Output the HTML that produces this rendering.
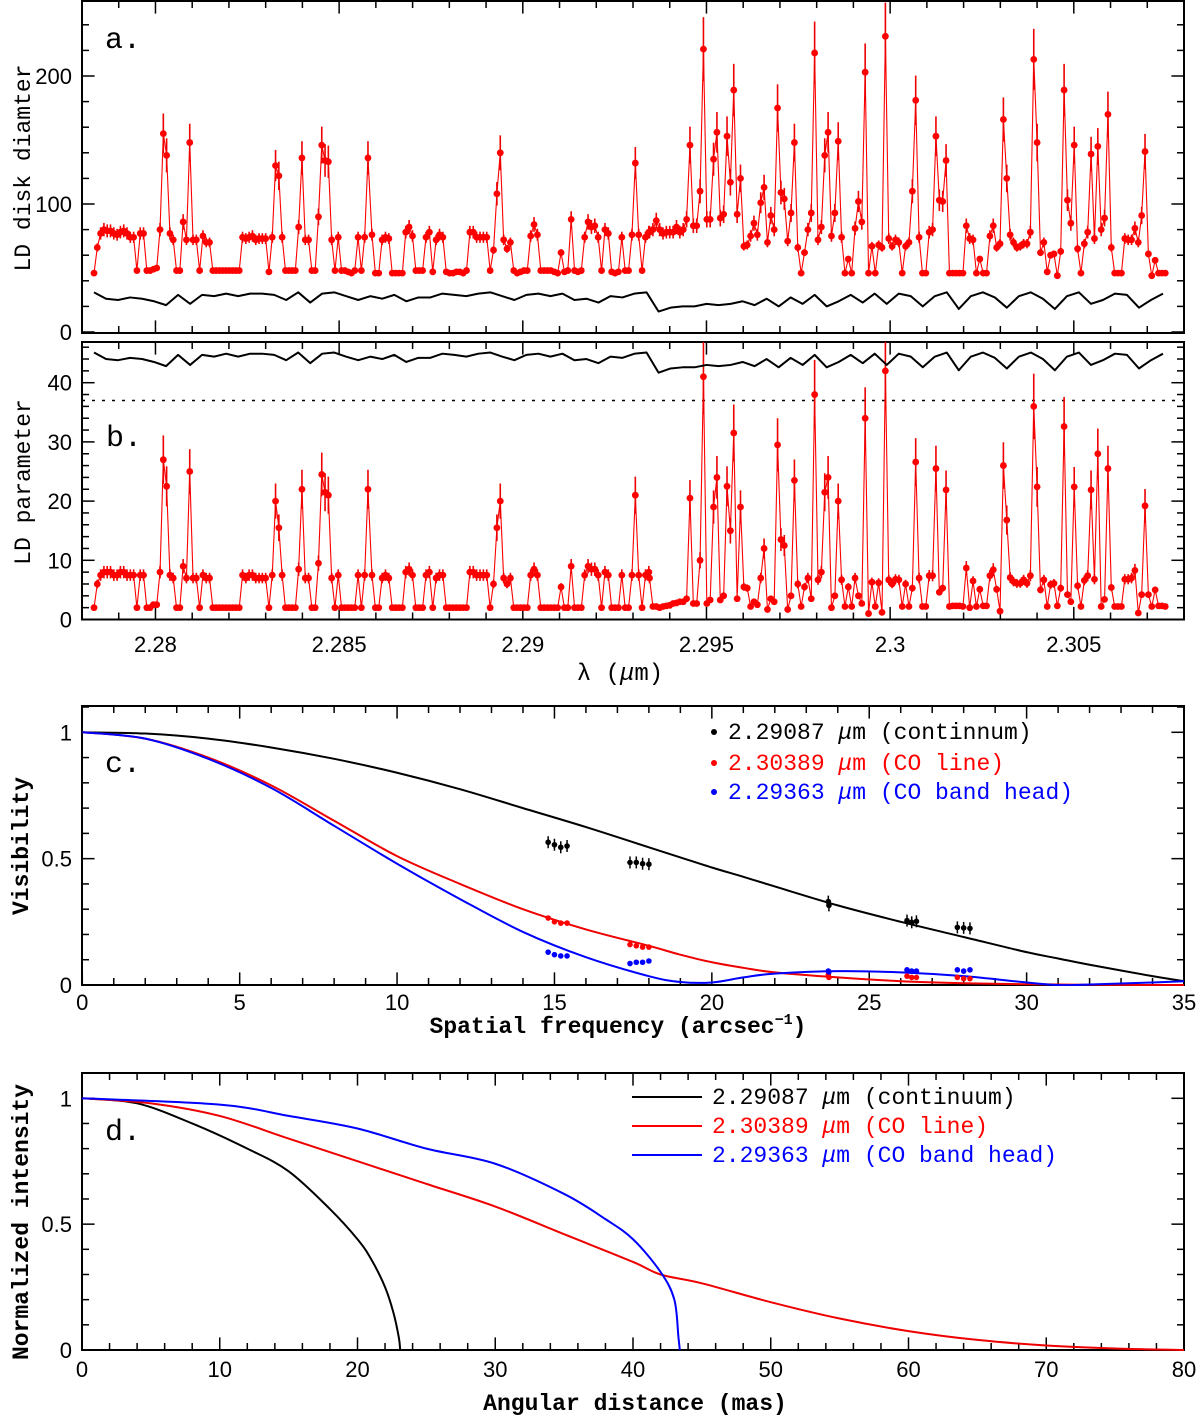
<!DOCTYPE html>
<html><head><meta charset="utf-8"><style>
html,body{margin:0;padding:0;background:#fff;}
svg{display:block;}
text{font-family:"Liberation Mono",monospace;}
.tk{font-family:"Liberation Sans",sans-serif;font-size:22px;}
</style></head><body>
<svg id="fig" width="1200" height="1419" viewBox="0 0 1200 1419" xmlns="http://www.w3.org/2000/svg">
<defs>
<clipPath id="clipA"><rect x="82" y="1" width="1102" height="332"/></clipPath>
<clipPath id="clipB"><rect x="82" y="342" width="1102" height="278"/></clipPath>
<clipPath id="clipC"><rect x="82" y="706" width="1102" height="280"/></clipPath>
<clipPath id="clipD"><rect x="82" y="1073" width="1102" height="278"/></clipPath>
</defs>
<g id="pA"></g>
<g id="pB"></g>
<g id="pC"></g>
<g id="pD"></g>
<text x="105" y="48" font-size="30" font-family="Liberation Serif">a.</text>
<text x="106" y="446" font-size="30" font-family="Liberation Serif">b.</text>
<text x="105" y="772" font-size="30" font-family="Liberation Serif">c.</text>
<text x="105" y="1140" font-size="30" font-family="Liberation Serif">d.</text>
<text transform="translate(30,168) rotate(-90)" text-anchor="middle" font-size="23">LD disk diamter</text>
<text transform="translate(30,482) rotate(-90)" text-anchor="middle" font-size="23">LD parameter</text>
<text x="620" y="680" text-anchor="middle" font-size="24">λ (<tspan font-style="italic">μ</tspan>m)</text>
<text transform="translate(28,846) rotate(-90)" text-anchor="middle" font-size="23" font-weight="bold">Visibility</text>
<text x="618" y="1033" text-anchor="middle" font-size="23" font-weight="bold">Spatial frequency (arcsec<tspan dy="-9" font-size="15">−1</tspan><tspan dy="9">)</tspan></text>
<text transform="translate(28,1222) rotate(-90)" text-anchor="middle" font-size="23" font-weight="bold">Normalized intensity</text>
<text x="635" y="1410" text-anchor="middle" font-size="23" font-weight="bold">Angular distance (mas)</text>
</svg>
<script>
// ---------- Panel a/b data ----------
const segLam = [[2.278327,2.285785],[2.285894,2.293431],[2.293450,2.300788],[2.300880,2.307490]];
const diamSeg1 = [46,66,77,80,79,79,77,76,78,79,77,74,74,48,77,77,48,48,49,50,80,155,138,77,72,48,48,86,72,148,72,72,48,75,70,70,48,48,48,48,48,48,48,48,48,74,73,74,75,72,73,73,73,47,74,130,122,74,48,48,48,48,82,136,72,72,48,48,90,146,134,133,72,48,74,48,48,47,46,48,74,48,74,136];
const diamSeg2 = [76,46,46,72,74,73,46,46,46,46,78,82,75,48,48,48,74,78,47,72,76,74,47,46,46,47,47,46,48,78,78,74,74,74,74,48,64,108,140,72,65,70,48,46,47,48,48,75,84,76,48,48,48,48,47,46,62,47,48,88,48,47,48,74,86,82,83,74,48,80,77,47,46,47,74,48,48,76,132,76,48,74,78];
const diamSeg3 = [78,80,87,80,77,78,78,78,82,78,80,88,146,83,83,110,221,88,88,135,156,89,92,153,117,189,92,120,67,68,75,85,76,101,113,70,91,80,175,109,104,71,93,148,66,46,62,80,93,218,72,82,138,156,75,93,149,74,46,57,46,81,102,86,203,46,67,46,68,66,231,73,67,72,70,46,67,70,110,181,74];
const diamSeg4 = [46,46,78,80,153,103,102,134,46,46,46,46,46,83,73,72,46,57,46,46,75,83,66,69,166,120,76,70,66,67,69,69,78,213,148,62,70,47,60,61,44,63,189,103,85,146,65,46,69,78,139,73,145,80,89,170,66,46,46,46,73,72,72,81,70,91,141,61,44,56,46,46,46];
const ldSeg1 = [2,6,7.5,8,8,8,7.5,7.5,8,8,7.5,7.5,7.5,2,7.5,7.5,2,2,2.5,2.5,8,27,22.5,7.5,7,2,2,9,7,25,7,7,2,7.5,7,7,2,2,2,2,2,2,2,2,2,7.5,7,7.5,7.5,7,7,7,7,2,7.5,20,15.5,7.5,2,2,2,2,8.5,22,7,7,2,2,9.5,24.5,21.5,21,7,2,7.5,2,2,2,2,2,7.5,2,7.5,22];
const ldSeg2 = [7.5,2,2,7,7.5,7,2,2,2,2,8,8.5,7.5,2,2,2,7.5,8,2,7,7.5,7.5,2,2,2,2,2,2,2,8,8,7.5,7.5,7.5,7.5,2,6,15.5,20,7,6,7,2,2,2,2,2,7.5,8.5,7.5,2,2,2,2,2,2,5.5,2,2,9,2,2,2,7.5,9,8.5,8.5,7.5,2,8,7.5,2,2,2,7.5,2,2,7.5,21,7.5,2,7.5,8];
const ldSeg3 = [7,2.2,2.2,2,2.2,2.3,2.4,2.7,2.8,3,3,3.5,20.5,2.7,2.7,10,41,2.7,3.3,19,24,3.3,4,22.5,15,31.5,3.5,19,5.5,5.3,2.2,3,2.5,7,12,1.7,3.5,3,29.5,13.5,12.5,1.7,4,23.5,6,2.2,5.5,7,3.5,38,6.7,8,21.5,24,2,4,20,6.7,2.2,5.5,2.2,7,4,2.7,34,1,6.3,2.2,6.2,1.2,42,6.7,6,6.8,6.7,2.2,6,2.2,5.3,26.6,7];
const ldSeg4 = [2.2,2.2,7.4,7.4,25.5,4.6,5.3,21.9,2.2,2.3,2.3,2.3,2.2,8.7,2,6.5,2.2,5.1,2.3,2.3,7.4,8.4,5.1,1.4,26,16.8,7.1,6.4,6.1,6.1,6.7,6.1,7.4,36,22.4,5,6.7,2.2,5.9,6.1,2.3,5.3,32.6,4.2,3,22.4,5.7,2.2,6.6,7.4,21.9,6.8,28,2.2,3.4,25.5,5.4,2.2,2.2,2.2,6.8,6.8,7,8.3,1.1,4.2,19.2,4.2,2.2,5,2.3,2.3,2.2];
const noiseLam = [2.278327,2.307428];
const noiseA = [31,26,25,27,26,24,21,29,22,29,28,30,28,30,30,29,25,31,23,30,31,28,25,28,26,29,24,27,27,30,29,28,30,31,28,25,29,30,28,30,25,26,23,28,27,30,31,16,19,20,20,22,21,22,24,21,26,20,27,22,29,20,24,29,23,30,22,30,28,20,28,31,18,28,31,27,19,28,31,26,18,28,31,22,25,30,29,19,25,30];
const noiseB = [45.1,44,43.8,44.2,44,43.5,42.8,44.7,43,44.7,44.4,44.9,44.4,44.9,44.9,44.7,43.8,45.1,43.3,44.9,45.1,44.4,43.8,44.4,44,44.7,43.5,44.2,44.2,44.9,44.7,44.4,44.9,45.1,44.4,43.8,44.7,44.9,44.4,44.9,43.8,44,43.3,44.4,44.2,44.9,45.1,41.7,42.4,42.6,42.6,43,42.8,43,43.5,42.8,44,42.6,44.2,43,44.7,42.6,43.5,44.7,43.3,44.9,43,44.9,44.4,42.6,44.4,45.1,42.1,44.4,45.1,44.2,42.4,44.4,45.1,44,42.1,44.4,45.1,43,43.8,44.9,44.7,42.4,43.8,44.9];
const xTicksAB = ["2.28","2.285","2.29","2.295","2.3","2.305"];
const yTicksA = ["0","100","200"];
const yTicksB = ["0","10","20","30","40"];
const ldThreshold = 37;

// ---------- Panel c data ----------
const visQ = [0,2,4,6,8,10,12,14,16,18,19,20,21,22,24,26,28,30,31,32,34,35];
const visCont = [1,0.995,0.975,0.94,0.895,0.84,0.775,0.70,0.625,0.545,0.505,0.465,0.428,0.39,0.315,0.25,0.19,0.13,0.105,0.08,0.035,0.015];
const visCO = [1,0.975,0.9,0.79,0.65,0.51,0.40,0.30,0.22,0.155,0.12,0.09,0.068,0.05,0.03,0.015,0.007,0.003,0.002,0.001,0,0];
const visHead = [1,0.975,0.895,0.78,0.63,0.48,0.34,0.21,0.11,0.035,0.012,0.01,0.03,0.045,0.055,0.05,0.035,0.01,0,0.002,0.01,0.015];
const obsQ = [14.8,15.0,15.2,15.4,17.4,17.6,17.8,18.0,23.7,23.72,26.2,26.35,26.5,27.8,28.0,28.2];
const obsCont = [0.565,0.555,0.545,0.55,0.485,0.485,0.48,0.478,0.33,0.315,0.255,0.248,0.252,0.228,0.226,0.224];
const obsCO = [0.265,0.25,0.245,0.245,0.16,0.155,0.15,0.15,0.04,0.03,0.035,0.03,0.03,0.03,0.025,0.025];
const obsHead = [0.13,0.12,0.115,0.115,0.085,0.09,0.09,0.095,0.055,0.052,0.06,0.055,0.055,0.06,0.055,0.06];
const xTicksC = ["0","5","10","15","20","25","30","35"];
const yTicksC = ["0","0.5","1"];

// ---------- Panel d data ----------
const rCont = [0,4,8,12,15,18,20,21,22,22.6,23,23.1];
const iCont = [1,0.98,0.9,0.8,0.71,0.56,0.44,0.36,0.25,0.15,0.05,0];
const rCO = [0,5,10,15,20,25,30,35,40,42,45,50,55,60,65,70,75,80];
const iCO = [1,0.98,0.93,0.84,0.75,0.66,0.57,0.46,0.35,0.3,0.265,0.19,0.125,0.075,0.04,0.018,0.006,0];
const rHead = [0,10,15,20,25,30,35,38,40,42,43,43.3,43.4];
const iHead = [1,0.975,0.93,0.88,0.8,0.74,0.62,0.52,0.44,0.31,0.2,0.05,0];
const xTicksD = ["0","10","20","30","40","50","60","70","80"];
const yTicksD = ["0","0.5","1"];

// ---------- helpers ----------
const NS = "http://www.w3.org/2000/svg";
function mk(parent, tag, attrs){ const e=document.createElementNS(NS,tag); for(const k in attrs) e.setAttribute(k,attrs[k]); parent.appendChild(e); return e; }
function lin(d0,d1,r0,r1){ return v => r0 + (v-d0)*(r1-r0)/(d1-d0); }
function lamsFor(n, range){ const out=[]; for(let i=0;i<n;i++) out.push(range[0] + (range[1]-range[0])*(n>1? i/(n-1):0)); return out; }

function frame(g, x0,y0,x1,y1, name){
  const r=mk(g,'rect',{x:x0,y:y0,width:x1-x0,height:y1-y0,fill:'none',stroke:'#000','stroke-width':2});
  
  
}
function xTicks(g, sx, min, max, minor, major, y0, y1, tl, lblY, labels){
  let li=0;
  for(let v=min; v<=max+1e-9; v+=minor){
    const x=sx(v); const isMaj=Math.abs(v/major-Math.round(v/major))<1e-6;
    const L=isMaj?tl*1.8:tl;
    mk(g,'line',{x1:x,y1:y1,x2:x,y2:y1-L,stroke:'#000','stroke-width':1.5});
    mk(g,'line',{x1:x,y1:y0,x2:x,y2:y0+L,stroke:'#000','stroke-width':1.5});
    if(isMaj && labels && lblY){
      const t=mk(g,'text',{x:x,y:lblY,'text-anchor':'middle',class:'tk'});
      t.textContent=labels[li++];
      
      
    }
  }
}
function yTicks(g, sy, min, max, minor, major, x0, x1, tl, labels){
  let li=0;
  for(let v=min; v<=max+1e-9; v+=minor){
    const y=sy(v); const isMaj=Math.abs(v/major-Math.round(v/major))<1e-6;
    const L=isMaj?tl*1.8:tl;
    mk(g,'line',{x1:x0,y1:y,x2:x0+L,y2:y,stroke:'#000','stroke-width':1.5});
    mk(g,'line',{x1:x1,y1:y,x2:x1-L,y2:y,stroke:'#000','stroke-width':1.5});
    if(isMaj && labels){
      const t=mk(g,'text',{x:x0-10,y:y+8,'text-anchor':'end',class:'tk'});
      t.textContent=labels[li++];
      
      
    }
  }
}
function poly(g, xs, ys, sx, sy, color, w, name, clip, smooth){
  const P=xs.map((x,i)=>[sx(x),sy(ys[i])]);
  let d='M'+P[0][0].toFixed(2)+','+P[0][1].toFixed(2);
  for(let i=1;i<P.length;i++){
    if(smooth){
      const p0=P[Math.max(0,i-2)], p1=P[i-1], p2=P[i], p3=P[Math.min(P.length-1,i+1)];
      const c1=[p1[0]+(p2[0]-p0[0])/6, p1[1]+(p2[1]-p0[1])/6];
      const c2=[p2[0]-(p3[0]-p1[0])/6, p2[1]-(p3[1]-p1[1])/6];
      d+='C'+c1[0].toFixed(2)+','+c1[1].toFixed(2)+' '+c2[0].toFixed(2)+','+c2[1].toFixed(2)+' '+p2[0].toFixed(2)+','+p2[1].toFixed(2);
    } else d+='L'+P[i][0].toFixed(2)+','+P[i][1].toFixed(2);
  }
  const p=mk(g,'path',{d:d,fill:'none',stroke:color,'stroke-width':w,'stroke-linejoin':'round'});
  if(clip) p.setAttribute('clip-path','url(#'+clip+')');
  
  
  return p;
}

// ---------- Panel a & b ----------
const sxAB = lin(2.278, 2.308, 82, 1184);
const syA = lin(0, 100, 332, 204);
const syB = lin(0, 10, 619.5, 560.3);
function spectrum(g, segs, sy, clip, errFrac, errBase, name){
  const gg=mk(g,'g',{'clip-path':'url(#'+clip+')'});
  
  
  let lams=[], vals=[];
  segs.forEach((s,i)=>{ lams=lams.concat(lamsFor(s.length, segLam[i])); vals=vals.concat(s); });
  poly(gg, lams, vals, sxAB, sy, '#f00', 1.1, name+'-line');
  vals.forEach((v,i)=>{
    const e = Math.max(0, v-errBase)*errFrac + 0.5*errFrac*errBase*0.1;
    const x=sxAB(lams[i]);
    if(e>0.2){ mk(gg,'line',{x1:x,x2:x,y1:sy(v-e),y2:sy(v+e),stroke:'#e00','stroke-width':1.6}); }
    const c=mk(gg,'circle',{cx:x,cy:sy(v),r:3.4,fill:'#f00'});
    
    
  });
}
(function(){
  const g=document.getElementById('pA');
  frame(g,82,1,1184,333,'panel-a-frame');
  xTicks(g,sxAB,2.278,2.308,0.001,0.005,1,333,7,null,null);
  yTicks(g,syA,0,240,20,100,82,1184,7,yTicksA);
  spectrum(g,[diamSeg1,diamSeg2,diamSeg3,diamSeg4],syA,'clipA',0.14,45,'diameter-series');
  poly(g, lamsFor(noiseA.length,noiseLam), noiseA, sxAB, syA, '#000', 2, 'diameter-noise-line','clipA');

  const gb=document.getElementById('pB');
  frame(gb,82,342,1184,619.5,'panel-b-frame');
  xTicks(gb,sxAB,2.278,2.308,0.001,0.005,342,619.5,7,652,xTicksAB);
  yTicks(gb,syB,0,46,2,10,82,1184,7,yTicksB);
  const th=mk(gb,'line',{x1:82,x2:1184,y1:syB(ldThreshold),y2:syB(ldThreshold),stroke:'#000','stroke-width':1.5,'stroke-dasharray':'3,7'});
  
  
  spectrum(gb,[ldSeg1,ldSeg2,ldSeg3,ldSeg4],syB,'clipB',0.16,1.5,'ld-parameter-series');
  poly(gb, lamsFor(noiseB.length,noiseLam), noiseB, sxAB, syB, '#000', 2, 'ld-noise-line','clipB');
})();

// ---------- Panel c ----------
(function(){
  const g=document.getElementById('pC');
  const sx=lin(0,35,82.3,1184), sy=lin(0,1,985,732.3);
  frame(g,82,706,1184,985,'panel-c-frame');
  xTicks(g,sx,0,35,1,5,706,985,7,1010,xTicksC);
  yTicks(g,sy,0,1.1,0.1,0.5,82,1184,7,yTicksC);
  poly(g,visQ,visCont,sx,sy,'#000',2,'visibility-continuum-curve','clipC',true);
  poly(g,visQ,visCO,sx,sy,'#e00',2,'visibility-co-line-curve','clipC',true);
  poly(g,visQ,visHead,sx,sy,'#00f',2,'visibility-band-head-curve','clipC',true);
  [[obsCont,'#000','obs-continuum'],[obsCO,'#f00','obs-co-line'],[obsHead,'#00f','obs-band-head']].forEach(([arr,col,nm])=>{
    arr.forEach((v,i)=>{
      const x=sx(obsQ[i]), y=sy(v);
      if(col==='#000') mk(g,'line',{x1:x,x2:x,y1:y-6,y2:y+6,stroke:'#000','stroke-width':1.5});
      const c=mk(g,'circle',{cx:x,cy:y,r:2.8,fill:col});
      
      
    });
  });
  const leg=[['#000','2.29087 ','(continnum)',739],['#f00','2.30389 ','(CO line)',770],['#00f','2.29363 ','(CO band head)',799]];
  leg.forEach(([col,a,b,y],i)=>{
    const lg=mk(g,'g',{});
    
    
    mk(lg,'circle',{cx:714,cy:y-7,r:3,fill:col});
    const t=mk(lg,'text',{x:728,y:y,'font-size':23,fill:col});
    t.innerHTML=a+'<tspan font-style="italic">μ</tspan>m '+b;
  });
})();

// ---------- Panel d ----------
(function(){
  const g=document.getElementById('pD');
  const sx=lin(0,80,82,1184), sy=lin(0,1,1350,1098.3);
  frame(g,82,1073,1184,1350,'panel-d-frame');
  xTicks(g,sx,0,80,2,10,1073,1350,7,1377,xTicksD);
  yTicks(g,sy,0,1.1,0.1,0.5,82,1184,7,yTicksD);
  poly(g,rCont,iCont,sx,sy,'#000',2,'intensity-continuum-curve','clipD',true);
  poly(g,rCO,iCO,sx,sy,'#e00',2,'intensity-co-line-curve','clipD',true);
  poly(g,rHead,iHead,sx,sy,'#00f',2,'intensity-band-head-curve','clipD',true);
  const leg=[['#000','2.29087 ','(continuum)',1104],['#f00','2.30389 ','(CO line)',1133],['#00f','2.29363 ','(CO band head)',1162]];
  leg.forEach(([col,a,b,y])=>{
    const lg=mk(g,'g',{});
    
    
    mk(lg,'line',{x1:632,x2:702,y1:y-7,y2:y-7,stroke:col,'stroke-width':2});
    const t=mk(lg,'text',{x:712,y:y,'font-size':23,fill:col});
    t.innerHTML=a+'<tspan font-style="italic">μ</tspan>m '+b;
  });
})();
</script>
</body></html>
